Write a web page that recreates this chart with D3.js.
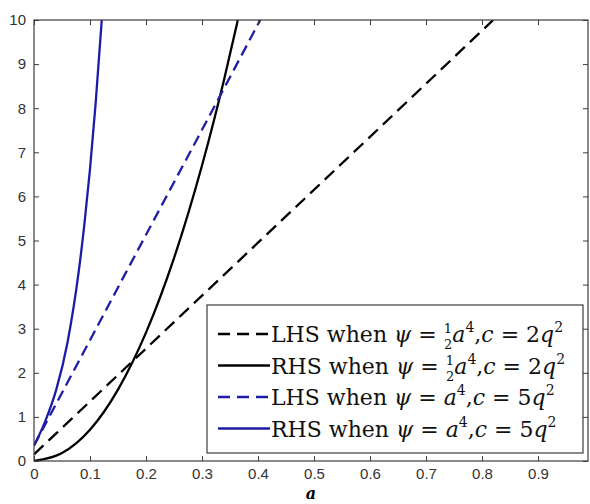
<!DOCTYPE html>
<html>
<head>
<meta charset="utf-8">
<script src="https://cdn.jsdelivr.net/npm/d3@7"></script>
<style>
  body { margin: 0; background: #fff; }
  svg { display: block; }
</style>
</head>
<body>
<svg></svg>
<script>
// values
const lhsBlackA = [0, 0.2, 0.4, 0.6, 0.82]
const lhsBlackY = [0.15, 2.55, 4.95, 7.35, 10.0]

const rhsBlackA = [0, 0.05, 0.1, 0.15, 0.2, 0.25, 0.3, 0.34, 0.364]
const rhsBlackY = [0, 0.18, 0.71, 1.62, 2.91, 4.6, 6.7, 8.68, 10.0]

const lhsBlueA = [0, 0.1, 0.2, 0.3, 0.404]
const lhsBlueY = [0.35, 2.74, 5.13, 7.51, 10.0]

const rhsBlueA = [0, 0.02, 0.04, 0.06, 0.08, 0.09, 0.1, 0.11, 0.121]
const rhsBlueY = [0.35, 0.9, 1.63, 2.7, 4.31, 5.37, 6.62, 8.1, 10.0]

const xTicks = [0, 0.1, 0.2, 0.3, 0.4, 0.5, 0.6, 0.7, 0.8, 0.9]
const yTicks = [0, 1, 2, 3, 4, 5, 6, 7, 8, 9, 10]

const
    svgWidth = 590,
    svgHeight = 504,
    LEFT = 34,
    RIGHT = 588,
    TOP = 20,
    BOTTOM = 461,
    BLUE = '#1c1ca6'

const svg = d3.select('svg')
    .attr('width', svgWidth)
    .attr('height', svgHeight)

svg.append('rect')
    .attr('width', svgWidth)
    .attr('height', svgHeight)
    .attr('fill', '#fff')

const x = d3.scaleLinear().domain([0, (RIGHT - LEFT) / 560]).range([LEFT, RIGHT])
const y = d3.scaleLinear().domain([0, 10]).range([BOTTOM, TOP])

svg.append('clipPath').attr('id', 'plot')
    .append('rect')
    .attr('x', LEFT).attr('y', TOP)
    .attr('width', RIGHT - LEFT).attr('height', BOTTOM - TOP)

// series
const series = [
    { a: lhsBlackA, v: lhsBlackY, color: '#000', dash: '13,7' },
    { a: rhsBlackA, v: rhsBlackY, color: '#000', dash: null },
    { a: lhsBlueA, v: lhsBlueY, color: BLUE, dash: '11,6' },
    { a: rhsBlueA, v: rhsBlueY, color: BLUE, dash: null }
]

const line = d3.line()
    .x(d => x(d[0]))
    .y(d => y(d[1]))
    .curve(d3.curveMonotoneX)

const plot = svg.append('g').attr('clip-path', 'url(#plot)')
series.forEach(s => {
    plot.append('path')
        .datum(s.a.map((a, i) => [a, s.v[i]]))
        .attr('d', line)
        .attr('fill', 'none')
        .attr('stroke', s.color)
        .attr('stroke-width', 2.3)
        .attr('stroke-dasharray', s.dash)
})

// axes (matlab style box, ticks inward)
const axisColor = '#3c3c3c'
const tickFont = '"Liberation Sans", Arial, sans-serif'

svg.append('g')
    .attr('transform', `translate(0,${BOTTOM})`)
    .call(d3.axisBottom(x).tickValues(xTicks).tickSize(-5).tickPadding(7).tickFormat(d3.format('')))
    .call(g => g.select('.domain').remove())
svg.append('g')
    .attr('transform', `translate(0,${TOP})`)
    .call(d3.axisTop(x).tickValues(xTicks).tickSize(-5).tickFormat(''))
    .call(g => g.select('.domain').remove())
svg.append('g')
    .attr('transform', `translate(${LEFT},0)`)
    .call(d3.axisLeft(y).tickValues(yTicks).tickSize(-5).tickPadding(8))
    .call(g => g.select('.domain').remove())
svg.append('g')
    .attr('transform', `translate(${RIGHT},0)`)
    .call(d3.axisRight(y).tickValues(yTicks).tickSize(-5).tickFormat(''))
    .call(g => g.select('.domain').remove())

svg.selectAll('.tick line').attr('stroke', axisColor)
svg.selectAll('.tick text')
    .attr('fill', '#333')
    .style('font-family', tickFont)
    .style('font-size', '15px')

svg.append('rect')
    .attr('x', LEFT).attr('y', TOP)
    .attr('width', RIGHT - LEFT).attr('height', BOTTOM - TOP)
    .attr('fill', 'none')
    .attr('stroke', axisColor)
    .attr('stroke-width', 1.2)

// x label
svg.append('text')
    .attr('x', (LEFT + RIGHT) / 2)
    .attr('y', 499)
    .attr('text-anchor', 'middle')
    .style('font-family', '"DejaVu Serif", serif')
    .style('font-style', 'italic')
    .style('font-weight', 'bold')
    .style('font-size', '16px')
    .text('a')

// legend
const legend = svg.append('g')
legend.append('rect')
    .attr('x', 207).attr('y', 305)
    .attr('width', 376).attr('height', 148)
    .attr('fill', '#fff')
    .attr('stroke', axisColor)
    .attr('stroke-width', 1.2)

const legendLabels = [
    { side: 'LHS', half: true, c: '2' },
    { side: 'RHS', half: true, c: '2' },
    { side: 'LHS', half: false, c: '5' },
    { side: 'RHS', half: false, c: '5' }
]

const serif = '"DejaVu Serif", serif'

legendLabels.forEach((lab, i) => {
    const s = series[i]
    const yy = 334 + i * 31.5
    legend.append('line')
        .attr('x1', 218).attr('x2', 270)
        .attr('y1', yy).attr('y2', yy)
        .attr('stroke', s.color)
        .attr('stroke-width', 2.3)
        .attr('stroke-dasharray', s.dash ? '12,7' : null)

    const t = legend.append('text')
        .attr('x', 271)
        .attr('y', yy + 8)
        .style('font-family', serif)
        .style('font-size', '22px')
        .attr('fill', '#111')
    t.append('tspan').text(lab.side + ' when ')
    t.append('tspan').style('font-style', 'italic').text('ψ')
    t.append('tspan').text(' =  ')
    if (lab.half) {
        t.append('tspan').style('font-size', '13px').attr('dy', -9).text('1')
        t.append('tspan').style('font-size', '13px').attr('dx', -8).attr('dy', 16).text('2')
        t.append('tspan').style('font-style', 'italic').attr('dy', -7).text('a')
    } else {
        t.append('tspan').style('font-style', 'italic').text('a')
    }
    t.append('tspan').style('font-size', '14px').attr('dy', -10).text('4')
    t.append('tspan').attr('dy', 10).text(',')
    t.append('tspan').style('font-style', 'italic').text('c')
    t.append('tspan').text(' =  ' + lab.c)
    t.append('tspan').style('font-style', 'italic').text('q')
    t.append('tspan').style('font-size', '14px').attr('dy', -10).text('2')
})
</script>
</body>
</html>
